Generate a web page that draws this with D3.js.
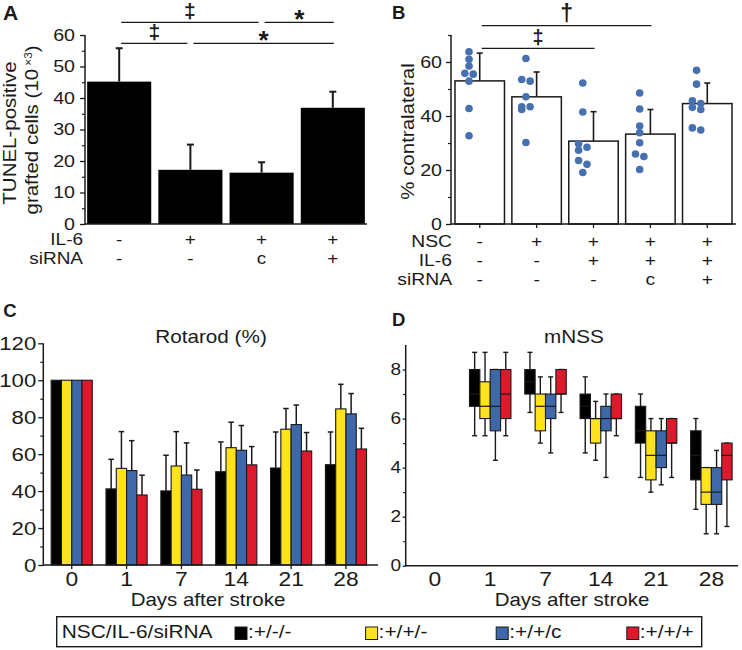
<!DOCTYPE html>
<html><head><meta charset="utf-8">
<script src="https://cdnjs.cloudflare.com/ajax/libs/d3/7.8.5/d3.min.js"></script>
<style>body{margin:0;background:#fff}svg{display:block}</style>
</head><body><svg id="c" width="742" height="650"></svg>
<script>
// ---------- DATA ----------
// Panel A
const il6A = ["-", "+", "+", "+"];
const sirnaA = ["-", "-", "c", "+"];
const tunelMean = [45.2, 17.2, 16.3, 36.9];
const tunelSD = [10.6, 8.0, 3.3, 5.1];
const sigA = [
  {from: 0, to: 2, row: 0, sym: "‡"},
  {from: 2, to: 3, row: 0, sym: "*"},
  {from: 0, to: 1, row: 1, sym: "‡"},
  {from: 1, to: 3, row: 1, sym: "*"}
];
const ticksA = [0, 10, 20, 30, 40, 50, 60];

// Panel B
const nscB = ["-", "+", "+", "+", "+"];
const il6B = ["-", "-", "+", "+", "+"];
const sirnaB = ["-", "-", "-", "c", "+"];
const contraMean = [53.0, 47.1, 30.7, 33.3, 44.6];
const contraSD = [10.3, 9.2, 10.9, 9.1, 7.6];
const contraPoints = [
  [63.8, 61.0, 58.5, 55.8, 55.5, 52.9, 42.8, 32.7],
  [61.3, 53.5, 52.9, 47.1, 43.4, 43.4, 42.4, 30.2],
  [52.2, 41.5, 29.7, 28.4, 27.3, 23.5, 22.1, 19.1],
  [48.5, 42.6, 36.3, 33.8, 30.1, 25.9, 25.0, 20.2],
  [56.9, 51.8, 45.6, 44.6, 43.2, 42.4, 35.6, 34.8]
];
const sigB = [
  {from: 0, to: 3, row: 0, sym: "†"},
  {from: 0, to: 2, row: 1, sym: "‡"}
];
const ticksB = [0, 20, 40, 60];

// Panel C / D shared
const days = ["0", "1", "7", "14", "21", "28"];
const groupNames = ["+/-/-", "+/+/-", "+/+/c", "+/+/+"];
const groupColors = ["#000000", "#fde21c", "#3f68a8", "#dd1a2c"];

// Panel C: Rotarod (%) means and SD
const rotarodBlack  = [100, 41.2, 40.1, 50.5, 52.5, 54.3];
const rotarodYellow = [100, 52.3, 53.6, 63.5, 73.5, 84.5];
const rotarodBlue   = [100, 51.1, 48.7, 62.1, 76.0, 81.8];
const rotarodRed    = [100, 37.9, 41.0, 54.2, 61.7, 62.8];
const rotarodSDBlack  = [0, 16.0, 19.3, 16.1, 19.5, 17.7];
const rotarodSDYellow = [0, 19.9, 18.6, 13.8, 11.2, 13.3];
const rotarodSDBlue   = [0, 16.2, 17.4, 13.4, 10.6, 11.0];
const rotarodSDRed    = [0, 10.7, 10.4, 9.9, 10.0, 11.2];
const ticksC = [0, 20, 40, 60, 80, 100, 120];

// Panel D: mNSS box stats [min, q1, median, q3, max] per day
const mnssBlack  = [null, [5.3, 6.5, 7.0, 8.0, 8.7], [6.25, 7.0, 7.5, 8.0, 8.7], [4.6, 6.0, 6.5, 7.0, 7.7], [3.6, 5.0, 5.5, 6.5, 7.0], [2.3, 3.5, 4.5, 5.5, 6.0]];
const mnssYellow = [null, [5.3, 6.0, 6.5, 7.5, 8.7], [5.0, 5.5, 6.5, 7.0, 7.7], [4.3, 5.0, 6.0, 6.0, 6.7], [3.0, 3.5, 4.5, 5.5, 6.0], [1.3, 2.5, 3.0, 4.0, 4.0]];
const mnssBlue   = [null, [4.3, 5.5, 6.5, 8.0, 8.0], [4.6, 6.0, 6.5, 7.0, 7.7], [3.6, 5.5, 6.0, 6.5, 7.0], [3.3, 4.0, 4.5, 5.5, 6.0], [1.3, 2.5, 3.0, 4.0, 4.7]];
const mnssRed    = [null, [5.3, 6.0, 7.0, 8.0, 8.7], [6.25, 7.0, 7.0, 8.0, 8.0], [5.3, 6.0, 6.0, 7.0, 7.0], [3.6, 5.0, 5.0, 6.0, 6.0], [1.6, 3.5, 4.5, 5.0, 5.0]];
const ticksD = [0, 2, 4, 6, 8];

// ---------- HELPERS ----------
const svg = d3.select("#c");
svg.append("rect").attr("width", 742).attr("height", 650).attr("fill", "#fff");
const INK = "#1a1a1a";
const FONT = "'Liberation Sans', Arial, Helvetica, sans-serif";
const SX = 1.17;

function T(parent, x, y, s, size, anchor, o = {}) {
  const tr = `translate(${x},${y})` + (o.rotate ? ` rotate(${o.rotate})` : "") + ` scale(${o.sx ?? SX},1)`;
  const t = parent.append("g").attr("transform", tr).append("text")
    .attr("text-anchor", anchor || "start").attr("font-size", size)
    .attr("font-family", FONT).attr("fill", o.fill || INK);
  if (o.weight) t.attr("font-weight", o.weight);
  if (s !== null) t.text(s);
  return t;
}

function line(g, x1, y1, x2, y2, w = 1.4, c = INK) {
  g.append("line").attr("x1", x1).attr("y1", y1).attr("x2", x2).attr("y2", y2)
    .attr("stroke", c).attr("stroke-width", w).attr("stroke-linecap", "butt");
}

function yAxis(x, y, major, minor, size, o = {}) {
  const g = svg.append("g").attr("transform", `translate(${x},0)`);
  g.call(d3.axisLeft(y).tickValues(major).tickSize(o.len || 5).tickPadding(o.pad ?? 3).tickFormat(d3.format("d")));
  g.select(".domain").remove();
  g.selectAll(".tick line").attr("stroke", INK).attr("stroke-width", 1.3);
  g.selectAll(".tick text").each(function () {
    const t = d3.select(this); const tx = +t.attr("x");
    t.attr("x", 0).attr("transform", `translate(${tx},0) scale(${SX},1)`);
  }).attr("font-size", size).attr("font-family", FONT).attr("fill", INK);
  if (minor && minor.length) {
    const gm = svg.append("g").attr("transform", `translate(${x},0)`);
    gm.call(d3.axisLeft(y).tickValues(minor).tickSize(o.minLen || 3).tickFormat(""));
    gm.select(".domain").remove();
    gm.selectAll(".tick line").attr("stroke", INK).attr("stroke-width", 1.2);
  }
  line(svg, x, y.range()[0] + 0.7, x, y.range()[1], 1.5);
}

function errBars(g, means, sds, cx, y, cap, w) {
  means.forEach((m, i) => {
    if (!sds[i]) return;
    const x = cx(i), y1 = y(m), y2 = y(m + sds[i]);
    line(g, x, y1, x, y2, w);
    line(g, x - cap / 2, y2, x + cap / 2, y2, w);
  });
}

function sig(g, list, cx, rowsY, sizes) {
  list.forEach(s => {
    const joinStart = list.some(o => o !== s && o.row === s.row && o.to === s.from);
    const joinEnd = list.some(o => o !== s && o.row === s.row && o.from === s.to);
    const x1 = cx(s.from) + (joinStart ? 3 : 2), x2 = cx(s.to) + (joinEnd ? -3 : 1);
    const yy = rowsY[s.row];
    line(g, x1, yy, x2, yy, 1.3);
    const isStar = s.sym === "*";
    T(g, (x1 + x2) / 2, yy + (isStar ? 5.5 : -4.5), s.sym, sizes[s.sym], "middle", {sx: 1, weight: "bold"});
  });
}

function swarm(vals, y, thresh, off) {
  const sorted = vals.slice().sort((a, b) => b - a);
  const out = []; let cl = [];
  const flush = () => {
    if (cl.length === 1) out.push({v: cl[0], dx: 0});
    else cl.forEach((v, k) => out.push({v, dx: k % 2 === 0 ? -off : off}));
    cl = [];
  };
  sorted.forEach(v => {
    if (cl.length && Math.abs(y(cl[cl.length - 1]) - y(v)) >= thresh) flush();
    cl.push(v);
  });
  flush();
  return out;
}

// ---------- PANEL A ----------
{
  const g = svg.append("g");
  const y = d3.scaleLinear().domain([0, 60]).range([224, 35]);
  const x = d3.scaleBand().domain(d3.range(tunelMean.length)).range([85, 367]).paddingInner(0.1).paddingOuter(0.03);
  const cx = i => x(i) + x.bandwidth() / 2;
  g.selectAll("rect.a").data(tunelMean).join("rect")
    .attr("x", (d, i) => x(i)).attr("y", d => y(d))
    .attr("width", x.bandwidth()).attr("height", d => y(0) - y(d)).attr("fill", "#000");
  errBars(g, tunelMean, tunelSD, cx, y, 7, 2);
  yAxis(85, y, ticksA, [5, 15, 25, 35, 45, 55], 16.8, {len: 5, pad: 5});
  line(g, 85, 224, 367, 224, 1.5);
  sig(g, sigA, cx, [22.3, 43.3], {"‡": 21, "*": 26});
  T(g, 83, 245, "IL-6", 16.2, "end");
  T(g, 83, 264, "siRNA", 16.2, "end");
  il6A.forEach((s, i) => T(g, cx(i), 245, s, 16.2, "middle"));
  sirnaA.forEach((s, i) => T(g, cx(i), 264, s, 16.2, "middle"));
  T(g, 16, 133, "TUNEL-positive", 17.5, "middle", {rotate: -90});
  const t2 = T(g, 38, 130, null, 17.5, "middle", {rotate: -90});
  t2.append("tspan").text("grafted cells (10");
  t2.append("tspan").attr("font-size", 10).attr("dy", -6).text(" ×3");
  t2.append("tspan").attr("dy", 6).text(")");
  T(g, 3, 20, "A", 21, "start", {weight: "bold", sx: 1});
}

// ---------- PANEL B ----------
{
  const g = svg.append("g");
  const y = d3.scaleLinear().domain([0, 70]).range([224, 35]);
  const x = d3.scaleBand().domain(d3.range(contraMean.length)).range([451, 736]).paddingInner(0.13).paddingOuter(0.07);
  const cx = i => x(i) + x.bandwidth() / 2;
  g.selectAll("rect.b").data(contraMean).join("rect")
    .attr("x", (d, i) => x(i)).attr("y", d => y(d))
    .attr("width", x.bandwidth()).attr("height", d => y(0) - y(d))
    .attr("fill", "#fff").attr("stroke", INK).attr("stroke-width", 1.5);
  errBars(g, contraMean, contraSD, cx, y, 6, 1.6);
  const gx = svg.append("g").attr("transform", "translate(0,224)")
    .call(d3.axisBottom(x).tickSize(4).tickFormat(""));
  gx.select(".domain").remove();
  gx.selectAll(".tick line").attr("stroke", INK).attr("stroke-width", 1.3);
  line(g, 451, 224, 736, 224, 1.5);
  yAxis(451, y, ticksB, [10, 30, 50, 70], 16.8, {len: 5, pad: 4});
  contraPoints.forEach((pts, i) => {
    swarm(pts, y, 6, 4.2).forEach(p => {
      g.append("circle").attr("cx", cx(i) - 10.7 + p.dx).attr("cy", y(p.v)).attr("r", 3.8).attr("fill", "#4770b0");
    });
  });
  sig(g, sigB, cx, [25.7, 48.3], {"†": 23, "‡": 20});
  T(g, 452, 246.7, "NSC", 16.5, "end");
  T(g, 452, 265.5, "IL-6", 16.5, "end");
  T(g, 452, 284.5, "siRNA", 16.5, "end");
  nscB.forEach((s, i) => T(g, cx(i), 246.7, s, 16.5, "middle"));
  il6B.forEach((s, i) => T(g, cx(i), 265.5, s, 16.5, "middle"));
  sirnaB.forEach((s, i) => T(g, cx(i), 284.5, s, 16.5, "middle"));
  T(g, 414, 131.5, "% contralateral", 17.5, "middle", {rotate: -90});
  T(g, 392, 19.3, "B", 18.5, "start", {weight: "bold", sx: 1});
}

// ---------- PANEL C ----------
{
  const g = svg.append("g");
  const y = d3.scaleLinear().domain([0, 120]).range([565, 343.3]);
  const x = d3.scaleBand().domain(days).range([44.3, 373.4]).paddingInner(0.25).paddingOuter(0.125);
  const xs = d3.scaleBand().domain(d3.range(4)).range([0, x.bandwidth()]);
  const series = [rotarodBlack, rotarodYellow, rotarodBlue, rotarodRed];
  const sds = [rotarodSDBlack, rotarodSDYellow, rotarodSDBlue, rotarodSDRed];
  series.forEach((vals, k) => {
    g.selectAll(null).data(vals).join("rect")
      .attr("x", (d, i) => x(days[i]) + xs(k)).attr("y", d => y(d))
      .attr("width", xs.bandwidth()).attr("height", d => y(0) - y(d))
      .attr("fill", groupColors[k]).attr("stroke", INK).attr("stroke-width", 1.1);
  });
  series.forEach((vals, k) => errBars(g, vals, sds[k], i => x(days[i]) + xs(k) + xs.bandwidth() / 2, y, 5.5, 1.5));
  const gx = svg.append("g").attr("transform", "translate(0,565)")
    .call(d3.axisBottom(x).tickSize(4).tickPadding(3.5));
  gx.select(".domain").remove();
  gx.selectAll(".tick line").attr("stroke", INK).attr("stroke-width", 1.3);
  gx.selectAll(".tick text").each(function () {
    const t = d3.select(this); const ty = +t.attr("y");
    t.attr("y", 0).attr("transform", `translate(0,${ty}) scale(${SX},1)`);
  }).attr("font-size", 19.5).attr("font-family", FONT).attr("fill", INK);
  line(g, 43.3, 565, 378, 565, 1.5);
  yAxis(43.3, y, ticksC, [10, 30, 50, 70, 90, 110], 19, {len: 5, pad: 2});
  T(g, 211, 342.7, "Rotarod (%)", 17.7, "middle");
  T(g, 208, 606, "Days after stroke", 17.5, "middle");
  T(g, 3.3, 316.7, "C", 18.5, "start", {weight: "bold", sx: 1});
}

// ---------- PANEL D ----------
{
  const g = svg.append("g");
  const y = d3.scaleLinear().domain([0, 9]).range([565.7, 345]);
  const x = d3.scaleBand().domain(days).range([407, 739.3]).paddingInner(0.25).paddingOuter(0.13);
  const xs = d3.scaleBand().domain(d3.range(4)).range([0, x.bandwidth()]);
  const series = [mnssBlack, mnssYellow, mnssBlue, mnssRed];
  series.forEach((stats, k) => {
    stats.forEach((s, i) => {
      if (!s) return;
      const x0 = x(days[i]) + xs(k), w = xs.bandwidth(), c = x0 + w / 2;
      line(g, c, y(s[0]), c, y(s[4]), 1.4);
      line(g, c - 2.5, y(s[0]), c + 2.5, y(s[0]), 1.4);
      line(g, c - 2.5, y(s[4]), c + 2.5, y(s[4]), 1.4);
      g.append("rect").attr("x", x0).attr("y", y(s[3])).attr("width", w).attr("height", y(s[1]) - y(s[3]))
        .attr("fill", groupColors[k]).attr("stroke", INK).attr("stroke-width", 1.1);
      line(g, x0, y(s[2]), x0 + w, y(s[2]), 1.2);
    });
  });
  const gx = svg.append("g").attr("transform", "translate(0,565.7)")
    .call(d3.axisBottom(x).tickSize(0).tickPadding(6));
  gx.select(".domain").remove();
  gx.selectAll(".tick text").each(function () {
    const t = d3.select(this); const ty = +t.attr("y");
    t.attr("y", 0).attr("transform", `translate(0,${ty}) scale(${SX},1)`);
  }).attr("font-size", 19.5).attr("font-family", FONT).attr("fill", INK);
  line(g, 405.7, 565.7, 738, 565.7, 1.5);
  yAxis(405.7, y, ticksD, [1, 3, 5, 7], 16.3, {len: 3, pad: 1.5, minLen: 2.5});
  T(g, 574, 342.7, "mNSS", 17.7, "middle");
  T(g, 572, 606, "Days after stroke", 17.5, "middle");
  T(g, 392, 326, "D", 18.5, "start", {weight: "bold", sx: 1});
}

// ---------- LEGEND ----------
{
  const g = svg.append("g");
  g.append("rect").attr("x", 56.7).attr("y", 616.7).attr("width", 645).attr("height", 30)
    .attr("fill", "none").attr("stroke", INK).attr("stroke-width", 1.4);
  T(g, 61.7, 638.3, "NSC/IL-6/siRNA", 18.5, "start", {sx: 1.13});
  groupNames.forEach((name, k) => {
    const sx0 = 235 + k * 130.6;
    g.append("rect").attr("x", sx0).attr("y", 627).attr("width", 12).attr("height", 12.5)
      .attr("fill", groupColors[k]).attr("stroke", INK).attr("stroke-width", 1);
    T(g, sx0 + 13, 638.3, ":" + name, 18.5, "start", {sx: 1.13});
  });
}
</script></body></html>
